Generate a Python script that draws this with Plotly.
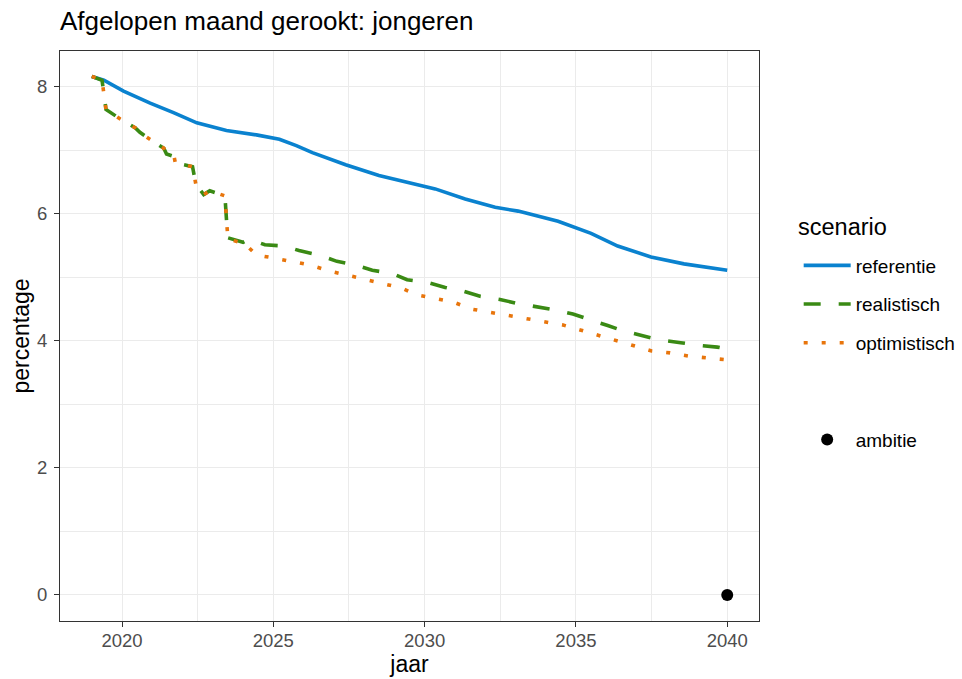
import plotly.graph_objects as go

# referentie
ref_x = [2019.0, 2019.4, 2020.05, 2020.93, 2021.7, 2022.47, 2023.45, 2024.44, 2025.2, 2025.76,
         2026.29, 2027.39, 2028.49, 2029.58, 2030.35, 2031.34, 2032.33, 2033.09, 2034.41,
         2035.5, 2036.38, 2037.48, 2038.57, 2040.0]
ref_y = [8.16, 8.10, 7.93, 7.74, 7.59, 7.43, 7.31, 7.24, 7.17, 7.07,
         6.96, 6.77, 6.60, 6.47, 6.39, 6.23, 6.10, 6.04, 5.88,
         5.69, 5.49, 5.32, 5.21, 5.11]

# realistisch
real_x = [2019.0, 2019.34, 2019.47, 2019.94, 2020.44, 2020.59, 2020.92, 2021.38, 2021.47, 2021.72,
          2021.76, 2022.33, 2022.44, 2022.7, 2022.9, 2023.4, 2023.45, 2023.5,
          2024.0, 2024.2, 2024.72, 2025.37, 2025.85, 2026.5, 2027.1, 2027.72, 2028.27,
          2028.92, 2029.42, 2030.07, 2030.68, 2031.28, 2031.83, 2032.49, 2033.04, 2033.7,
          2034.24, 2034.9, 2035.45, 2036.05, 2036.6, 2037.26, 2037.8, 2038.46, 2039.01,
          2039.67, 2040.0]
real_y = [8.16, 8.10, 7.64, 7.49, 7.35, 7.28, 7.17, 7.03, 6.94, 6.90,
          6.80, 6.74, 6.46, 6.30, 6.36, 6.28, 5.92, 5.62,
          5.55, 5.60, 5.51, 5.49, 5.42, 5.35, 5.25, 5.19, 5.11,
          5.06, 4.96, 4.92, 4.84, 4.78, 4.70, 4.65, 4.59, 4.54,
          4.49, 4.42, 4.34, 4.24, 4.15, 4.07, 4.01, 3.97, 3.93,
          3.90, 3.87]

# optimistisch
opt_x = [2019.0, 2019.34, 2019.47, 2019.94, 2020.44, 2020.59, 2020.92, 2021.38, 2021.47, 2021.72,
         2021.76, 2022.33, 2022.44, 2022.7, 2022.9, 2023.4, 2023.45, 2023.5,
         2024.05, 2024.44, 2025.04, 2025.65, 2026.24, 2026.84, 2027.45, 2028.03, 2028.62,
         2029.23, 2029.75, 2030.35, 2030.95, 2031.53, 2032.13, 2032.74, 2033.31, 2033.95,
         2034.55, 2035.14, 2035.72, 2036.33, 2036.9, 2037.5, 2038.11, 2038.72, 2039.32, 2040.0]
opt_y = [8.16, 8.10, 7.64, 7.49, 7.35, 7.28, 7.17, 7.03, 6.94, 6.90,
         6.80, 6.74, 6.46, 6.30, 6.36, 6.28, 5.92, 5.60,
         5.53, 5.35, 5.30, 5.25, 5.19, 5.10, 5.03, 4.96, 4.89,
         4.83, 4.72, 4.67, 4.61, 4.50, 4.45, 4.40, 4.36, 4.31,
         4.25, 4.17, 4.09, 4.00, 3.92, 3.84, 3.81, 3.76, 3.73, 3.70]

# ambitie
amb_x = [2040]
amb_y = [0]

x_ticks = [2020, 2025, 2030, 2035, 2040]
y_ticks = [0, 2, 4, 6, 8]

FONT = "Liberation Sans, Arial, sans-serif"

fig = go.Figure()
fig.add_trace(go.Scatter(x=ref_x, y=ref_y, mode="lines", name="referentie",
                         line=dict(color="#0A82CF", width=3.6), legendgroup="a", legend="legend"))
fig.add_trace(go.Scatter(x=real_x, y=real_y, mode="lines", name="realistisch",
                         line=dict(color="#3A8A14", width=3.6, dash="17px,18px"), legendgroup="b", legend="legend"))
fig.add_trace(go.Scatter(x=opt_x, y=opt_y, mode="lines", name="optimistisch",
                         line=dict(color="#E8750C", width=3.6, dash="4px,14px"), legendgroup="c", legend="legend"))
fig.add_trace(go.Scatter(x=amb_x, y=amb_y, mode="markers", name="ambitie",
                         marker=dict(color="black", size=12), legend="legend2"))

axis_common = dict(
    showline=True, mirror=True, linecolor="#333333", linewidth=1,
    ticks="outside", ticklen=5, tickcolor="#333333", tickwidth=1,
    tickfont=dict(family=FONT, size=18.5, color="#4D4D4D"),
    showgrid=True, gridcolor="#EBEBEB", gridwidth=1.2, zeroline=False,
    automargin=False,
)

fig.update_layout(
    width=962, height=679,
    margin=dict(l=60, r=203, t=51, b=58, autoexpand=False),
    plot_bgcolor="white", paper_bgcolor="white",
    font=dict(family=FONT, color="black"),
    title=dict(text="Afgelopen maand gerookt: jongeren", x=60/962, xanchor="left", xref="container",
               y=1 - 21/679, yanchor="middle", yref="container",
               font=dict(family=FONT, size=26, color="black")),
    xaxis=dict(range=[2017.95, 2041.05], tickvals=x_ticks,
               title=dict(text="jaar", font=dict(family=FONT, size=23, color="black"), standoff=5),
               minor=dict(tick0=2017.5, dtick=5, showgrid=True, gridcolor="#EBEBEB", gridwidth=0.6, ticks=""),
               ticklabelstandoff=-2,
               **axis_common),
    yaxis=dict(range=[-0.41, 8.56], tickvals=y_ticks,
               title=dict(text="percentage", font=dict(family=FONT, size=23, color="black"), standoff=0),
               minor=dict(tick0=1, dtick=2, showgrid=True, gridcolor="#EBEBEB", gridwidth=0.6, ticks=""),
               ticklabelstandoff=3,
               **axis_common),
    legend=dict(font=dict(family=FONT, size=19, color="black"),
                x=(799 - 60) / 699.3, xanchor="left", y=0.657, yanchor="top",
                itemwidth=47,
                tracegroupgap=11, bgcolor="rgba(0,0,0,0)"),
    legend2=dict(font=dict(family=FONT, size=19, color="black"),
                 x=(799 - 60) / 699.3, xanchor="left", y=0.318, yanchor="middle",
                 itemwidth=47,
                 bgcolor="rgba(0,0,0,0)"),
    annotations=[dict(text="scenario", xref="paper", yref="paper", x=(796 - 60) / 699.3 + 0.001,
                      y=(620.7 - 227) / 570,
                      xanchor="left", yanchor="middle", showarrow=False,
                      font=dict(family=FONT, size=23.5, color="black"))],
)

fig.write_html("out.html", config={"displayModeBar": False},
               post_script="document.body.style.margin='0';")
